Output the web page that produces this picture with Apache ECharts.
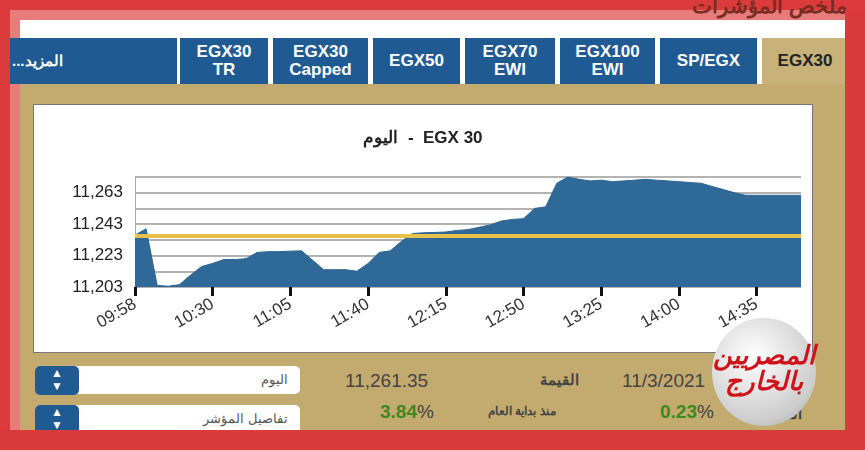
<!DOCTYPE html>
<html>
<head>
<meta charset="utf-8">
<script src="https://cdn.jsdelivr.net/npm/echarts@6/dist/echarts.min.js"></script>
<style>
body{margin:0;width:865px;height:450px;overflow:hidden;background:#dc3b3c;font-family:Arial,"Liberation Sans",sans-serif;position:relative}
.abs{position:absolute}
.tab{position:absolute;top:38px;height:46px;background:#1f5b92;color:#fff;font-weight:bold;font-size:17px;line-height:18px;text-align:center;display:flex;align-items:center;justify-content:center}
.sel{background:#c9b27a;color:#222}
.drop{position:absolute;left:35px;width:265px;height:28px;background:#fff;border-radius:5px;font-size:13px;color:#555;text-align:right;line-height:28px;box-sizing:border-box;padding-right:12px}
.drop b{position:absolute;left:0;top:0;width:44px;height:28px;background:#1f5b92;border-radius:5px;color:#fff;text-align:center;font-size:12px;line-height:13px;padding-top:1px}
</style>
</head>
<body>
<div class="abs" style="left:10px;top:10px;width:845px;height:430px;background:#e87b7c"></div>
<div class="abs" style="left:20px;top:20px;width:825px;height:410px;background:#fff"></div>
<div class="abs" style="left:20px;top:84px;width:825px;height:346px;background:#c3aa6e"></div>
<div class="abs" style="right:18px;top:-6px;font-size:21px;font-weight:bold;color:#7a2b22;direction:rtl">ملخص المؤشرات</div>
<div class="tab" style="left:10px;width:165px;padding-left:2px;font-size:15px;direction:rtl;justify-content:flex-end">المزيد...</div>
<div class="tab" style="left:180px;width:88px">EGX30<br>TR</div>
<div class="tab" style="left:273px;width:95px">EGX30<br>Capped</div>
<div class="tab" style="left:373px;width:87px">EGX50</div>
<div class="tab" style="left:465px;width:90px">EGX70<br>EWI</div>
<div class="tab" style="left:560px;width:95px">EGX100<br>EWI</div>
<div class="tab" style="left:660px;width:97px">SP/EGX</div>
<div class="tab sel" style="left:762px;width:86px">EGX30</div>
<div id="main" class="abs" style="left:33px;top:104px;width:778px;height:247px;background:#fff;border:1px solid #777"></div>
<div class="drop" style="top:366px"><b>▲<br>▼</b>اليوم</div>
<div class="drop" style="top:405px"><b>▲<br>▼</b>تفاصيل المؤشر</div>
<div class="abs" style="left:345px;top:370px;font-size:19px;color:#444">11,261.35</div>
<div class="abs" style="left:540px;top:371px;font-size:15px;font-weight:bold;color:#444">القيمة</div>
<div class="abs" style="left:622px;top:370px;font-size:19px;color:#444">11/3/2021</div>
<div class="abs" style="left:380px;top:401px;font-size:19px;font-weight:bold;color:#3a8a1e">3.84<span style="font-weight:normal;color:#444">%</span></div>
<div class="abs" style="left:488px;top:404px;font-size:12px;font-weight:bold;color:#444">منذ بداية العام</div>
<div class="abs" style="left:660px;top:401px;font-size:19px;font-weight:bold;color:#3a8a1e">0.23<span style="font-weight:normal;color:#444">%</span></div>
<div class="abs" style="left:768px;top:405px;font-size:15px;font-weight:bold;color:#444">التغير</div>
<div class="abs" style="left:0;top:430px;width:865px;height:20px;background:#d93a3a"></div>
<div class="abs" style="left:845px;top:10px;width:20px;height:440px;background:#d93a3a"></div>
<div class="abs" style="left:712px;top:318px;width:104px;height:108px;border-radius:50%;background:radial-gradient(circle at 40% 35%,#fff,#ccc 70%,#999);"></div>
<div class="abs" style="left:712px;top:342px;width:104px;text-align:center;font-size:26px;line-height:26px;font-weight:bold;font-style:italic;color:#d0131a;direction:rtl">المصريين بالخارج</div>
<script>
var times = ['09:58','10:00','10:05','10:10','10:15','10:20','10:25','10:30','10:35','10:40',
  '10:45','10:50','10:55','11:00','11:05','11:10','11:15','11:20','11:25','11:30',
  '11:35','11:40','11:45','11:50','11:55','12:00','12:05','12:10','12:15','12:20',
  '12:25','12:30','12:35','12:40','12:45','12:50','12:55','13:00','13:05','13:10',
  '13:15','13:20','13:25','13:30','13:35','13:40','13:45','13:50','13:55','14:00',
  '14:05','14:10','14:15','14:20','14:25','14:30','14:35','14:40','14:45','14:50','14:55'];
var values = [11236,11240,11204,11203.5,11204.5,11210.5,11216,11218,11220.5,11220.5,
  11221,11225,11225.5,11225.5,11225.8,11226,11220,11214,11214,11214,
  11213,11218,11225,11226,11232,11237,11237.5,11237.7,11238,11239,
  11239.5,11241,11242.5,11245,11246,11246.5,11253,11254,11269,11273,
  11271.5,11270.5,11271,11270,11270.5,11271,11271.5,11271,11270.5,11270,
  11269.5,11269,11267,11265,11263,11261.4,11261.35,11261.35,11261.35,11261.35,11261.35];
var previousClose = 11235.5;
var yMin = 11203, yMax = 11273, yStep = 10;

var myChart = echarts.init(document.getElementById('main'));
// 值轴从0开始计, 标签加回基数
var option = {
  animation: false,
  title: {
    text: 'اليوم  -  EGX 30', left: 'center', top: 20,
    textStyle: {fontSize: 17, fontWeight: 'bold', color: '#222', fontFamily: 'Arial'}
  },
  grid: {left: 101, right: 11, top: 72, bottom: 65},
  xAxis: {
    type: 'category', data: times, boundaryGap: false,
    axisLine: {show: false},
    axisTick: {show: true, interval: 6, length: 9, lineStyle: {color: '#111', width: 3}},
    axisLabel: {interval: 6, rotate: 30, fontSize: 17, color: '#333', fontFamily: 'Arial', margin: 16},
    splitLine: {show: false}
  },
  yAxis: {
    type: 'value', min: 0, max: yMax - yMin, interval: yStep,
    axisLine: {show: true, lineStyle: {color: '#aaa'}},
    axisTick: {show: false},
    axisLabel: {
      fontSize: 17, color: '#222', fontFamily: 'Arial', margin: 12,
      formatter: function (v) { return v % 20 === 0 && v < yMax - yMin ? (v + yMin).toLocaleString('en-US') : ''; }
    },
    splitLine: {lineStyle: {color: '#9a9a9a', width: 1.5}}
  },
  series: [{
    type: 'line', symbol: 'none',
    data: values.map(function (v) { return v - yMin; }),
    lineStyle: {width: 1, color: '#2c6493'},
    areaStyle: {color: '#2f6997', opacity: 1},
    markLine: {
      symbol: 'none', silent: true, label: {show: false},
      lineStyle: {color: '#e8c14a', width: 4, type: 'solid'},
      data: [{yAxis: previousClose - yMin}]
    }
  }]
};
myChart.setOption(option);
</script>
</body>
</html>
